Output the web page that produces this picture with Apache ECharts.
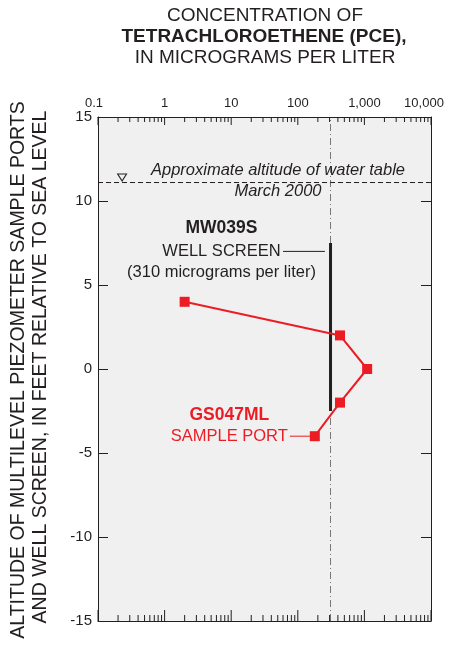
<!DOCTYPE html>
<html>
<head>
<meta charset="utf-8">
<script src="https://cdn.jsdelivr.net/npm/echarts@6/dist/echarts.min.js"></script>
<style>
html,body{margin:0;padding:0;background:#fff;}
#chart{width:452px;height:646px;}
</style>
</head>
<body>
<div id="chart"></div>
<script>
// ---- data ----
var xTickLabels = ['0.1', '1', '10', '100', '1,000', '10,000'];
var xMajorTicks = [0.1, 1, 10, 100, 1000, 10000];
var minorMantissas = [2, 3, 4, 5, 6, 7, 8, 9];
var decades = [0.1, 1, 10, 100, 1000];
var yTicks = [-15, -10, -5, 0, 5, 10, 15];

// GS047ML sample ports: PCE concentration (ug/L) and altitude (ft)
var portConc = [2, 430, 1100, 430, 180];
var portAlt = [4, 2, 0, -2, -4];

// MW039S well screen
var wellConc = 310;
var wellScreenTop = 7.5;
var wellScreenBottom = -2.5;

// water table
var waterTableAlt = 11.1;
var waterTableSymbolConc = 0.23;

// leader lines (data space)
var wellLeaderConc = [60, 255];
var wellLeaderAlt = 7;
var portLeaderConc = [76, 152];
var portLeaderAlt = -4;

var FONT = "'Liberation Sans', Arial, Helvetica, sans-serif";
var RED = '#ec1c24';
var INK = '#231f20';

var minorTicks = [];
decades.forEach(function (d) {
  minorMantissas.forEach(function (m) { minorTicks.push(+(d * m).toPrecision(3)); });
});
var tickData = xMajorTicks.map(function (v) { return [v, 15, 1]; })
  .concat(minorTicks.map(function (v) { return [v, 15, 0]; }));

var portData = portConc.map(function (c, i) { return [c, portAlt[i]]; });

function xAxisBase(pos, showLabel) {
  return {
    type: 'log', logBase: 10, min: 0.1, max: 10000, position: pos,
    axisLine: { show: true, onZero: false, lineStyle: { color: INK, width: 1 } },
    axisTick: { show: false },
    axisLabel: showLabel ? {
      show: true, customValues: xMajorTicks, margin: 7, fontSize: 13, fontFamily: FONT, color: INK,
      rich: {
        first: { fontSize: 13, fontFamily: FONT, color: INK, padding: [0, 8, 0, 0] },
        last: { fontSize: 13, fontFamily: FONT, color: INK, padding: [0, 14, 0, 0] }
      },
      formatter: function (v) {
        var i = xMajorTicks.findIndex(function (t) { return Math.abs(Math.log10(t) - Math.log10(v)) < 1e-6; });
        if (i < 0) return '';
        if (i === 0) return '{first|' + xTickLabels[i] + '}';
        if (i === xTickLabels.length - 1) return '{last|' + xTickLabels[i] + '}';
        return xTickLabels[i];
      }
    } : { show: false },
    splitLine: { show: false }, minorTick: { show: false }
  };
}

function yAxisBase(pos, showLabel) {
  return {
    type: 'value', min: -15, max: 15, interval: 5, position: pos,
    axisLine: { show: true, onZero: false, lineStyle: { color: INK, width: 1 } },
    axisTick: { show: true, inside: true, length: 10, lineStyle: { color: INK } },
    axisLabel: showLabel ? { show: true, margin: 6, fontSize: 15, fontFamily: FONT, color: INK } : { show: false },
    splitLine: { show: false }
  };
}

function annot(x, y, text, style) {
  return {
    value: [x, y],
    label: Object.assign({ show: true, position: 'inside', formatter: text, fontFamily: FONT, fontSize: 16, color: INK, opacity: 1 }, style)
  };
}

var chart = echarts.init(document.getElementById('chart'), null, { renderer: 'canvas' });
chart.setOption({
  animation: false,
  backgroundColor: '#ffffff',
  grid: { left: 98, right: 21, top: 117, bottom: 25, show: true, backgroundColor: '#f0f0f0', borderWidth: 0 },
  xAxis: [xAxisBase('top', true), xAxisBase('bottom', false)],
  yAxis: [yAxisBase('left', true), yAxisBase('right', false)],
  graphic: [
    { type: 'text', x: 265, y: 16, style: { text: 'CONCENTRATION OF', font: '19px ' + FONT, fill: INK, textAlign: 'center', textVerticalAlign: 'middle' } },
    { type: 'text', x: 264, y: 37, style: { text: 'TETRACHLOROETHENE (PCE),', font: 'bold 19px ' + FONT, fill: INK, textAlign: 'center', textVerticalAlign: 'middle' } },
    { type: 'text', x: 265, y: 58, style: { text: 'IN MICROGRAMS PER LITER', font: '19px ' + FONT, fill: INK, textAlign: 'center', textVerticalAlign: 'middle' } },
    { type: 'text', x: 19, y: 370, rotation: Math.PI / 2, style: { text: 'ALTITUDE OF MULTILEVEL PIEZOMETER SAMPLE PORTS', font: '19.5px ' + FONT, fill: INK, textAlign: 'center', textVerticalAlign: 'middle' } },
    { type: 'text', x: 41, y: 367, rotation: Math.PI / 2, style: { text: 'AND WELL SCREEN, IN FEET RELATIVE TO SEA LEVEL', font: '19.5px ' + FONT, fill: INK, textAlign: 'center', textVerticalAlign: 'middle' } }
  ],
  series: [
    { // log-axis ticks (top and bottom, inward)
      type: 'custom', data: tickData, encode: { x: 0, y: 1 }, silent: true, z: 4, clip: false,
      renderItem: function (params, api) {
        var v = api.value(0), major = api.value(2) === 1;
        var top = api.coord([v, 15]), bot = api.coord([v, -15]);
        var lt = major ? 8 : 5, lb = major ? 11 : 6;
        var st = { stroke: INK, lineWidth: 1 };
        return {
          type: 'group', children: [
            { type: 'line', shape: { x1: top[0], y1: top[1], x2: top[0], y2: top[1] + lt }, style: st },
            { type: 'line', shape: { x1: bot[0], y1: bot[1], x2: bot[0], y2: bot[1] - lb }, style: st }
          ]
        };
      }
    },
    { // reference line at well concentration (dash-dot)
      type: 'line', data: [[wellConc, -15], [wellConc, 15]], symbol: 'none', silent: true,
      lineStyle: { color: '#777', width: 1, type: [7, 3, 1, 3] }, z: 2
    },
    { // water table
      type: 'line', data: [[0.1, waterTableAlt], [10000, waterTableAlt]], symbol: 'none', silent: true,
      lineStyle: { color: INK, width: 1, type: [5, 3] }, z: 2
    },
    { // water table symbol
      type: 'scatter', data: [[waterTableSymbolConc, waterTableAlt]], symbol: 'triangle', symbolRotate: 180,
      symbolSize: [9, 7], symbolOffset: [0, -5], itemStyle: { color: '#f0f0f0', borderColor: INK, borderWidth: 1, opacity: 1 }, z: 3
    },
    { // well screen
      type: 'line', data: [[wellConc, wellScreenTop], [wellConc, wellScreenBottom]], symbol: 'none',
      lineStyle: { color: INK, width: 3 }, z: 3
    },
    { // well leader
      type: 'line', data: [[wellLeaderConc[0], wellLeaderAlt], [wellLeaderConc[1], wellLeaderAlt]], symbol: 'none',
      lineStyle: { color: INK, width: 1 }, z: 3
    },
    { // port leader
      type: 'line', data: [[portLeaderConc[0], portLeaderAlt], [portLeaderConc[1], portLeaderAlt]], symbol: 'none',
      lineStyle: { color: RED, width: 1 }, z: 3
    },
    { // sample ports
      type: 'line', data: portData, symbol: 'rect', symbolSize: 10,
      lineStyle: { color: RED, width: 2 }, itemStyle: { color: RED }, z: 5
    },
    { // annotations
      type: 'scatter', symbolSize: 1, itemStyle: { color: 'rgba(0,0,0,0)', opacity: 1 }, silent: true, z: 6,
      data: [
        annot(50.4, 11.8, 'Approximate altitude of water table', { fontStyle: 'italic', fontSize: 16.5 }),
        annot(50.4, 10.55, 'March 2000', { fontStyle: 'italic', fontSize: 16.5 }),
        annot(7.15, 8.39, 'MW039S', { fontWeight: 'bold', fontSize: 17.5 }),
        annot(7.15, 7.02, 'WELL SCREEN', { fontSize: 16.5 }),
        annot(7.15, 5.73, '(310 micrograms per liter)', { fontSize: 16.5 }),
        annot(9.36, -2.74, 'GS047ML', { fontWeight: 'bold', fontSize: 17.5, color: RED }),
        annot(9.36, -4.03, 'SAMPLE PORT', { fontSize: 16.5, color: RED })
      ]
    }
  ]
});
</script>
</body>
</html>
